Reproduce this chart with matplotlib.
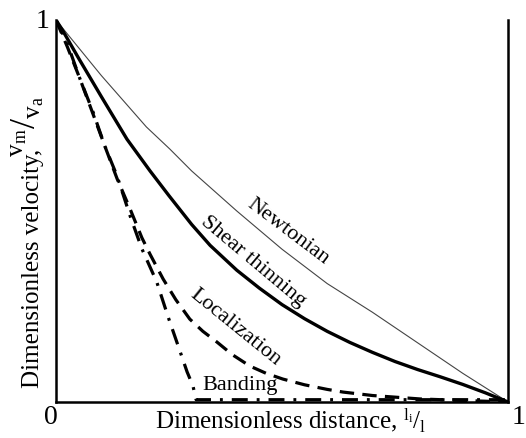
import matplotlib
matplotlib.use("Agg")
import matplotlib.pyplot as plt
import matplotlib.transforms as mtransforms

# ---- data ----
newt_x = [0.0, 0.1, 0.2, 0.252, 0.3, 0.4, 0.5, 0.6, 0.7, 0.8, 0.9, 1.0]
newt_y = [1.0, 0.855, 0.72, 0.662, 0.605, 0.50, 0.40, 0.31, 0.235, 0.155, 0.075, 0.0]

shear_x = [0.0, 0.015, 0.05, 0.1, 0.157, 0.208, 0.25, 0.3, 0.341, 0.4, 0.45, 0.5,
           0.55, 0.6, 0.65, 0.7, 0.75, 0.8, 0.85, 0.9, 0.95, 1.0]
shear_y = [1.0, 0.972, 0.90, 0.80, 0.688, 0.605, 0.54, 0.465, 0.41, 0.345, 0.298, 0.255,
           0.218, 0.185, 0.156, 0.13, 0.106, 0.085, 0.066, 0.046, 0.024, 0.0]

loc_x = [0.0, 0.025, 0.053, 0.08, 0.108, 0.135, 0.164, 0.19, 0.208, 0.237, 0.265, 0.296,
         0.325, 0.356, 0.39, 0.429, 0.465, 0.502, 0.55, 0.6, 0.635, 0.7, 0.805, 0.9, 1.0]
loc_y = [1.0, 0.93, 0.846, 0.76, 0.670, 0.585, 0.505, 0.43, 0.387, 0.322, 0.268, 0.217,
         0.185, 0.157, 0.124, 0.094, 0.075, 0.060, 0.045, 0.033, 0.026, 0.017, 0.008, 0.004, 0.0]

band_x = [0.0, 0.024, 0.053, 0.082, 0.108, 0.135, 0.164, 0.190, 0.223, 0.248, 0.274,
          0.290, 0.303, 0.31, 1.0]
band_y = [1.0, 0.942, 0.846, 0.759, 0.670, 0.592, 0.487, 0.401, 0.314, 0.223, 0.134,
          0.079, 0.042, 0.006, 0.006]

curve_labels = ["Newtonian", "Shear thinning", "Localization", "Banding"]
x_ticks = [0, 1]
x_tick_labels = ["0", "1"]
y_ticks = [1]
y_tick_labels = ["1"]
x_label = r"Dimensionless distance, $^{\mathrm{l_i}}/_{\mathrm{l}}$"
y_label = "Dimensionless velocity,"
y_label_frac = r"$^{\mathrm{v_m}}/_{\mathrm{v_a}}$"

plt.rcParams["font.family"] = ["Liberation Serif", "DejaVu Serif"]
plt.rcParams["mathtext.fontset"] = "custom"
plt.rcParams["mathtext.rm"] = "Liberation Serif"
plt.rcParams["mathtext.it"] = "Liberation Serif:italic"

fig = plt.figure(figsize=(5.26, 4.39), dpi=100)
ax = fig.add_axes([56 / 526, (439 - 403) / 439, (508 - 56) / 526, (403 - 21) / 439])

ax.plot(newt_x, newt_y, color="#444444", lw=0.8)
ax.plot(shear_x, shear_y, color="black", lw=2.4)
ax.plot(loc_x, loc_y, color="black", lw=2.3, dashes=(4.5, 2.6))
ax.plot(band_x, band_y, color="black", lw=2.3, dashes=(5.0, 2.8, 0.9, 2.8))

ax.set_xlim(0, 1)
ax.set_ylim(0, 1)
for s in ["left", "right", "bottom"]:
    ax.spines[s].set_linewidth(1.8)
ax.spines["top"].set_visible(False)

ax.set_xticks([])
ax.set_yticks([])

def off(dx, dy):
    return mtransforms.offset_copy(ax.transData, fig=fig, x=dx, y=dy, units="dots")

ax.text(x_ticks[0], 0, x_tick_labels[0], transform=off(-5, -15),
        ha="center", va="center", fontsize=20, clip_on=False)
ax.text(x_ticks[1], 0, x_tick_labels[1], transform=off(11, -15),
        ha="center", va="center", fontsize=20, clip_on=False)
ax.text(0, y_ticks[0], y_tick_labels[0], transform=off(-13, -1),
        ha="center", va="center", fontsize=20, clip_on=False)

ax.set_xlabel(x_label, fontsize=18)
ax.xaxis.label.set_verticalalignment("baseline")
ax.xaxis.set_label_coords(0.52, -0.065)

ax.set_ylabel(y_label, fontsize=18)
ax.yaxis.set_label_coords(-0.027, 0.352)
ax.text(-0.022, 0.645, y_label_frac, transform=ax.transAxes, rotation=90,
        rotation_mode="anchor", ha="left", va="bottom", fontsize=26, clip_on=False)

ax.text(0.513, 0.448, curve_labels[0], rotation=-37, ha="center", va="center", fontsize=16,
        rotation_mode="anchor")
ax.text(0.436, 0.369, curve_labels[1], rotation=-40, ha="center", va="center", fontsize=16,
        rotation_mode="anchor")
ax.text(0.396, 0.199, curve_labels[2], rotation=-39, ha="center", va="center", fontsize=16,
        rotation_mode="anchor")
ax.text(0.407, 0.047, curve_labels[3], ha="center", va="center", fontsize=16)

fig.savefig("out.png", dpi=100)
